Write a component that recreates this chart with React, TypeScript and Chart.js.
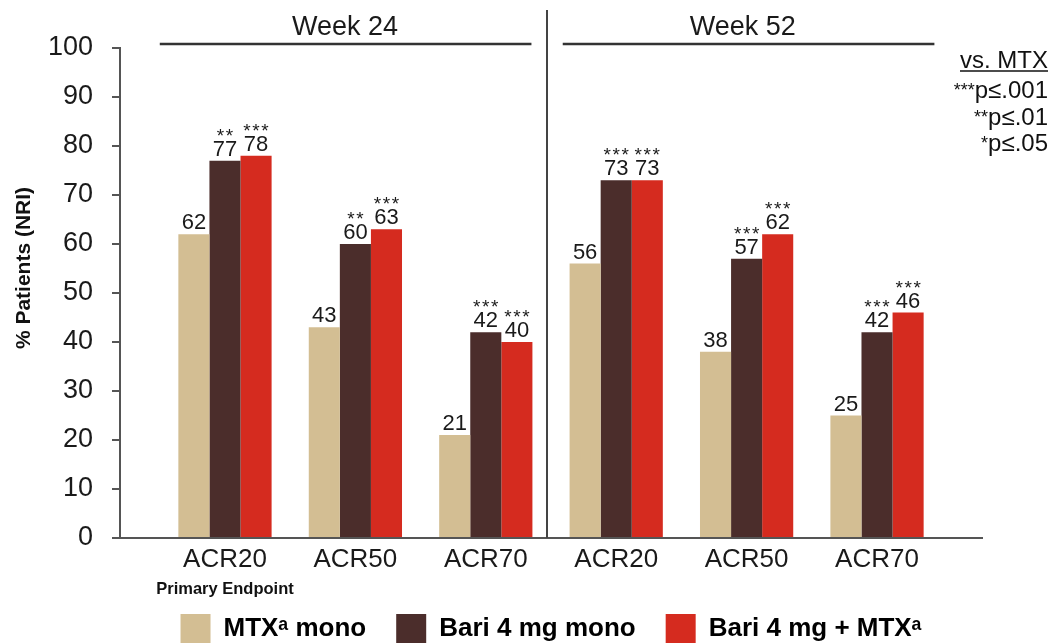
import React, { useEffect, useRef } from "react";
import { Chart, registerables } from "chart.js";

Chart.register(...registerables);

// ---- data ----
const categories = ["ACR20", "ACR50", "ACR70", "ACR20", "ACR50", "ACR70"];
const seriesNames = ["MTXᵃ mono", "Bari 4 mg mono", "Bari 4 mg + MTXᵃ"];
const mtxMono = [62, 43, 21, 56, 38, 25];
const bariMono = [77, 60, 42, 73, 57, 42];
const bariMtx = [78, 63, 40, 73, 62, 46];
const mtxSig = ["", "", "", "", "", ""];
const bariMonoSig = ["**", "**", "***", "***", "***", "***"];
const bariMtxSig = ["***", "***", "***", "***", "***", "***"];
const seriesColors = ["#D3BE93", "#4B2D2B", "#D52B1F"];
const weekLabels = ["Week 24", "Week 52"];
const weekFrom = [-0.5, 2.59];
const weekTo = [2.35, 5.44];
const weekTextAt = [0.92, 3.97];
const dividerAt = 2.47;
const pStars = ["***", "**", "*"];
const pTexts = ["p≤.001", "p≤.01", "p≤.05"];
const yTitle = "% Patients (NRI)";
const subLabel = "Primary Endpoint";

const FONT = '"Liberation Sans", Arial, Helvetica, sans-serif';
const INK = "#1a1a1a";

const overlayPlugin = {
  id: "overlay",
  afterDatasetsDraw(chart: any) {
    const { ctx } = chart;
    const sigs = [mtxSig, bariMonoSig, bariMtxSig];
    ctx.save();
    chart.data.datasets.forEach((ds: any, di: number) => {
      const meta = chart.getDatasetMeta(di);
      meta.data.forEach((bar: any, i: number) => {
        const v = ds.data[i].y;
        ctx.fillStyle = INK;
        ctx.textAlign = "center";
        ctx.textBaseline = "alphabetic";
        ctx.font = `22px ${FONT}`;
        ctx.fillText(String(v), bar.x, bar.y - 5);
        const s = sigs[di][i];
        if (s) {
          ctx.font = `19px ${FONT}`;
          const n = s.length;
          for (let k = 0; k < n; k++) {
            ctx.fillText("*", bar.x + (k - (n - 1) / 2) * 9, bar.y - 19);
          }
        }
      });
    });
    ctx.restore();
  },
  afterDraw(chart: any) {
    const { ctx, chartArea } = chart;
    const xs = chart.scales.x;
    ctx.save();
    // divider
    ctx.strokeStyle = "#444";
    ctx.lineWidth = 2;
    const dx = Math.round(xs.getPixelForValue(dividerAt));
    ctx.beginPath();
    ctx.moveTo(dx, 10);
    ctx.lineTo(dx, chartArea.bottom);
    ctx.stroke();
    // week headers
    weekLabels.forEach((w, i) => {
      ctx.strokeStyle = "#333";
      ctx.lineWidth = 2.5;
      ctx.beginPath();
      ctx.moveTo(xs.getPixelForValue(weekFrom[i]), 44);
      ctx.lineTo(xs.getPixelForValue(weekTo[i]), 44);
      ctx.stroke();
      ctx.fillStyle = INK;
      ctx.font = `27px ${FONT}`;
      ctx.textAlign = "center";
      ctx.textBaseline = "alphabetic";
      ctx.fillText(w, xs.getPixelForValue(weekTextAt[i]), 35);
    });
    // y title
    ctx.save();
    ctx.translate(24, 268);
    ctx.rotate(-Math.PI / 2);
    ctx.font = `bold 21px ${FONT}`;
    ctx.fillStyle = "#111";
    ctx.textAlign = "center";
    ctx.textBaseline = "middle";
    ctx.fillText(yTitle, 0, 0);
    ctx.restore();
    // primary endpoint
    ctx.font = `bold 16.5px ${FONT}`;
    ctx.fillStyle = "#111";
    ctx.textAlign = "center";
    ctx.textBaseline = "alphabetic";
    ctx.fillText(subLabel, xs.getPixelForValue(0), 594);
    // p-value notes
    const right = 1048;
    ctx.textAlign = "right";
    ctx.font = `24px ${FONT}`;
    ctx.fillStyle = "#111";
    ctx.fillText("vs. MTX", right, 68);
    const vw = ctx.measureText("vs. MTX").width;
    ctx.strokeStyle = "#111";
    ctx.lineWidth = 1.5;
    ctx.beginPath();
    ctx.moveTo(right - vw, 71);
    ctx.lineTo(right, 71);
    ctx.stroke();
    const bases = [98, 125, 151];
    pTexts.forEach((t, i) => {
      ctx.font = `24px ${FONT}`;
      ctx.textAlign = "right";
      ctx.fillText(t, right, bases[i]);
      const tw = ctx.measureText(t).width;
      ctx.font = `18px ${FONT}`;
      ctx.fillText(pStars[i], right - tw, bases[i] - 2);
    });
    ctx.restore();
  },
};

export default function App() {
  const ref = useRef<HTMLCanvasElement | null>(null);
  useEffect(() => {
    document.body.style.margin = "0";
    document.body.style.overflow = "hidden";
    const canvas = ref.current!;
    const seriesValues = [mtxMono, bariMono, bariMtx];
    const chart = new Chart(canvas, {
      type: "bar",
      data: {
        datasets: seriesValues.map((vals, si) => ({
          label: seriesNames[si],
          data: vals.map((v, i) => ({ x: i, y: v })),
          backgroundColor: seriesColors[si],
          borderWidth: 0,
          barPercentage: 1,
          categoryPercentage: 0.715,
        })),
      },
      options: {
        animation: false,
        responsive: false,
        devicePixelRatio: 1,
        layout: { padding: { top: 48, right: 70, bottom: 0, left: 0 } },
        plugins: {
          tooltip: { enabled: false },
          legend: {
            position: "bottom",
            fullSize: false,
            labels: {
              boxWidth: 30,
              boxHeight: 30,
              padding: 30,
              color: "#000",
              font: { family: FONT, size: 26, weight: "bold" },
            },
          },
        },
        scales: {
          x: {
            type: "linear",
            offset: false,
            min: -0.805,
            max: 5.805,
            grid: { display: false, drawTicks: false },
            border: { display: true, color: "#555", width: 2 },
            ticks: {
              stepSize: 1,
              includeBounds: false,
              autoSkip: false,
              maxRotation: 0,
              padding: 6,
              color: INK,
              font: { family: FONT, size: 26 },
              callback: (v: any) => {
                const r = Math.round(Number(v));
                return Math.abs(Number(v) - r) < 1e-6 && r >= 0 && r < categories.length ? categories[r] : "";
              },
            },
            afterFit: (s: any) => {
              s.height = 46;
            },
          },
          y: {
            min: 0,
            max: 100,
            grid: { display: true, drawOnChartArea: false, drawTicks: true, tickLength: 8, color: "#555", lineWidth: 2 },
            border: { display: true, color: "#555", width: 2 },
            ticks: {
              stepSize: 10,
              padding: 19,
              color: INK,
              font: { family: FONT, size: 27 },
            },
            afterFit: (s: any) => {
              s.width = 120;
            },
          },
        },
      },
      plugins: [overlayPlugin],
    } as any);
    return () => chart.destroy();
  }, []);
  return (
    <div style={{ width: 1052, height: 654 }}>
      <canvas ref={ref} width={1052} height={654} />
    </div>
  );
}
